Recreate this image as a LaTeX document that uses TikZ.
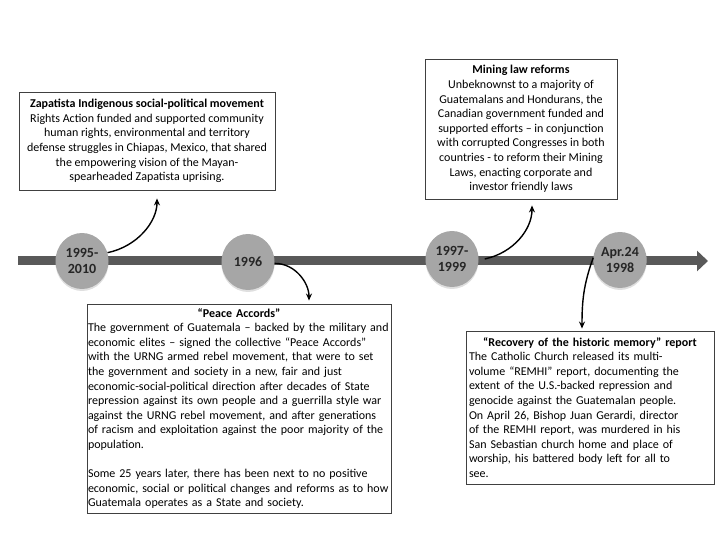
\documentclass[tikz,border=0pt]{standalone}
\usepackage{fontspec}
\setmainfont{Carlito}
\usetikzlibrary{arrows.meta,shapes.geometric,shadows}
\definecolor{bargray}{HTML}{595959}
\definecolor{dotgray}{HTML}{A6A6A6}
\definecolor{framegray}{HTML}{404040}
\newcommand{\boxhead}[1]{\makebox[\linewidth]{\bfseries #1}}

\begin{document}
\begin{tikzpicture}[
  x=1pt,y=1pt,
  year/.style={ellipse,fill=dotgray,minimum width=53pt,minimum height=56pt,
    inner sep=0pt,align=center,font=\fontsize{14}{15.5}\selectfont\bfseries,
    text=black!85,drop shadow={shadow xshift=0pt,shadow yshift=-2pt,opacity=.25}},
  note/.style={draw=framegray,line width=0.9pt,fill=white,inner sep=4pt,
    font=\fontsize{12}{14.6}\selectfont},
  arrow/.style={-{Stealth[length=7pt,width=6pt]},line width=1.4pt,draw=black}
]
  \useasboundingbox (0,0) rectangle (720,540);

  % the time line itself
  \coordinate (tstart) at (18,279);
  \coordinate (tend) at (708,279);
  \draw[bargray,line width=9pt,-{Triangle[length=11pt,width=20pt]}] (tstart) -- (tend);

  \node[year] (y1) at (82,279) {1995-\\2010};
  \node[year] (y2) at (248,278) {1996};
  \node[year] (y3) at (452,281) {1997-\\1999};
  \node[year] (y4) at (620,280) {Apr.24\\1998};

  \node[note,align=center,minimum width=256pt,minimum height=98pt] (zapatista) at (147,399)
    {\textbf{Zapatista Indigenous social-political movement}\\
     Rights Action funded and supported community\\
     human rights, environmental and territory\\
     defense struggles in Chiapas, Mexico, that shared\\
     the empowering vision of the Mayan-\\
     spearheaded Zapatista uprising.};

  \node[note,align=center,minimum width=192pt,minimum height=140pt] (mining) at (521,411)
    {\textbf{Mining law reforms}\\
     Unbeknownst to a majority of\\
     Guatemalans and Hondurans, the\\
     Canadian government funded and\\
     supported efforts – in conjunction\\
     with corrupted Congresses in both\\
     countries - to reform their Mining\\
     Laws, enacting corporate and\\
     investor friendly laws};

  \node[note,align=left,inner xsep=1pt,text width=302pt,minimum height=209pt] (peace) at (239,131.5)
    {\boxhead{“Peace Accords”}\\
     The government of Guatemala – backed by the military and\\
     economic elites – signed the collective “Peace Accords”\\
     with the URNG armed rebel movement, that were to set\\
     the government and society in a new, fair and just\\
     economic-social-political direction after decades of State\\
     repression against its own people and a guerrilla style war\\
     against the URNG rebel movement, and after generations\\
     of racism and exploitation against the poor majority of the\\
     population.\\[14.6pt]
     Some 25 years later, there has been next to no positive\\
     economic, social or political changes and reforms as to how\\
     Guatemala operates as a State and society.};

  \node[note,align=left,inner xsep=3pt,text width=242pt,minimum height=153pt] (remhi) at (590,132.5)
    {\boxhead{“Recovery of the historic memory” report}\\
     The Catholic Church released its multi-\\
     volume “REMHI” report, documenting the\\
     extent of the U.S.-backed repression and\\
     genocide against the Guatemalan people.\\
     On April 26, Bishop Juan Gerardi, director\\
     of the REMHI report, was murdered in his\\
     San Sebastian church home and place of\\
     worship, his battered body left for all to\\
     see.};

  \draw[arrow,shorten >=8pt] (y1.18) to[out=12,in=-90] ([xshift=10pt]zapatista.south);
  \draw[arrow,shorten >=3pt] (y2.-3) to[out=0,in=90] ([xshift=70pt]peace.north);
  \draw[arrow,shorten >=6pt] ([xshift=6pt]y3.east) to[out=12,in=-90] ([xshift=11pt]mining.south);
  \draw[arrow,shorten >=2pt] (y4.175) to[out=-110,in=90] ([xshift=-8pt]remhi.north);
\end{tikzpicture}
\end{document}
